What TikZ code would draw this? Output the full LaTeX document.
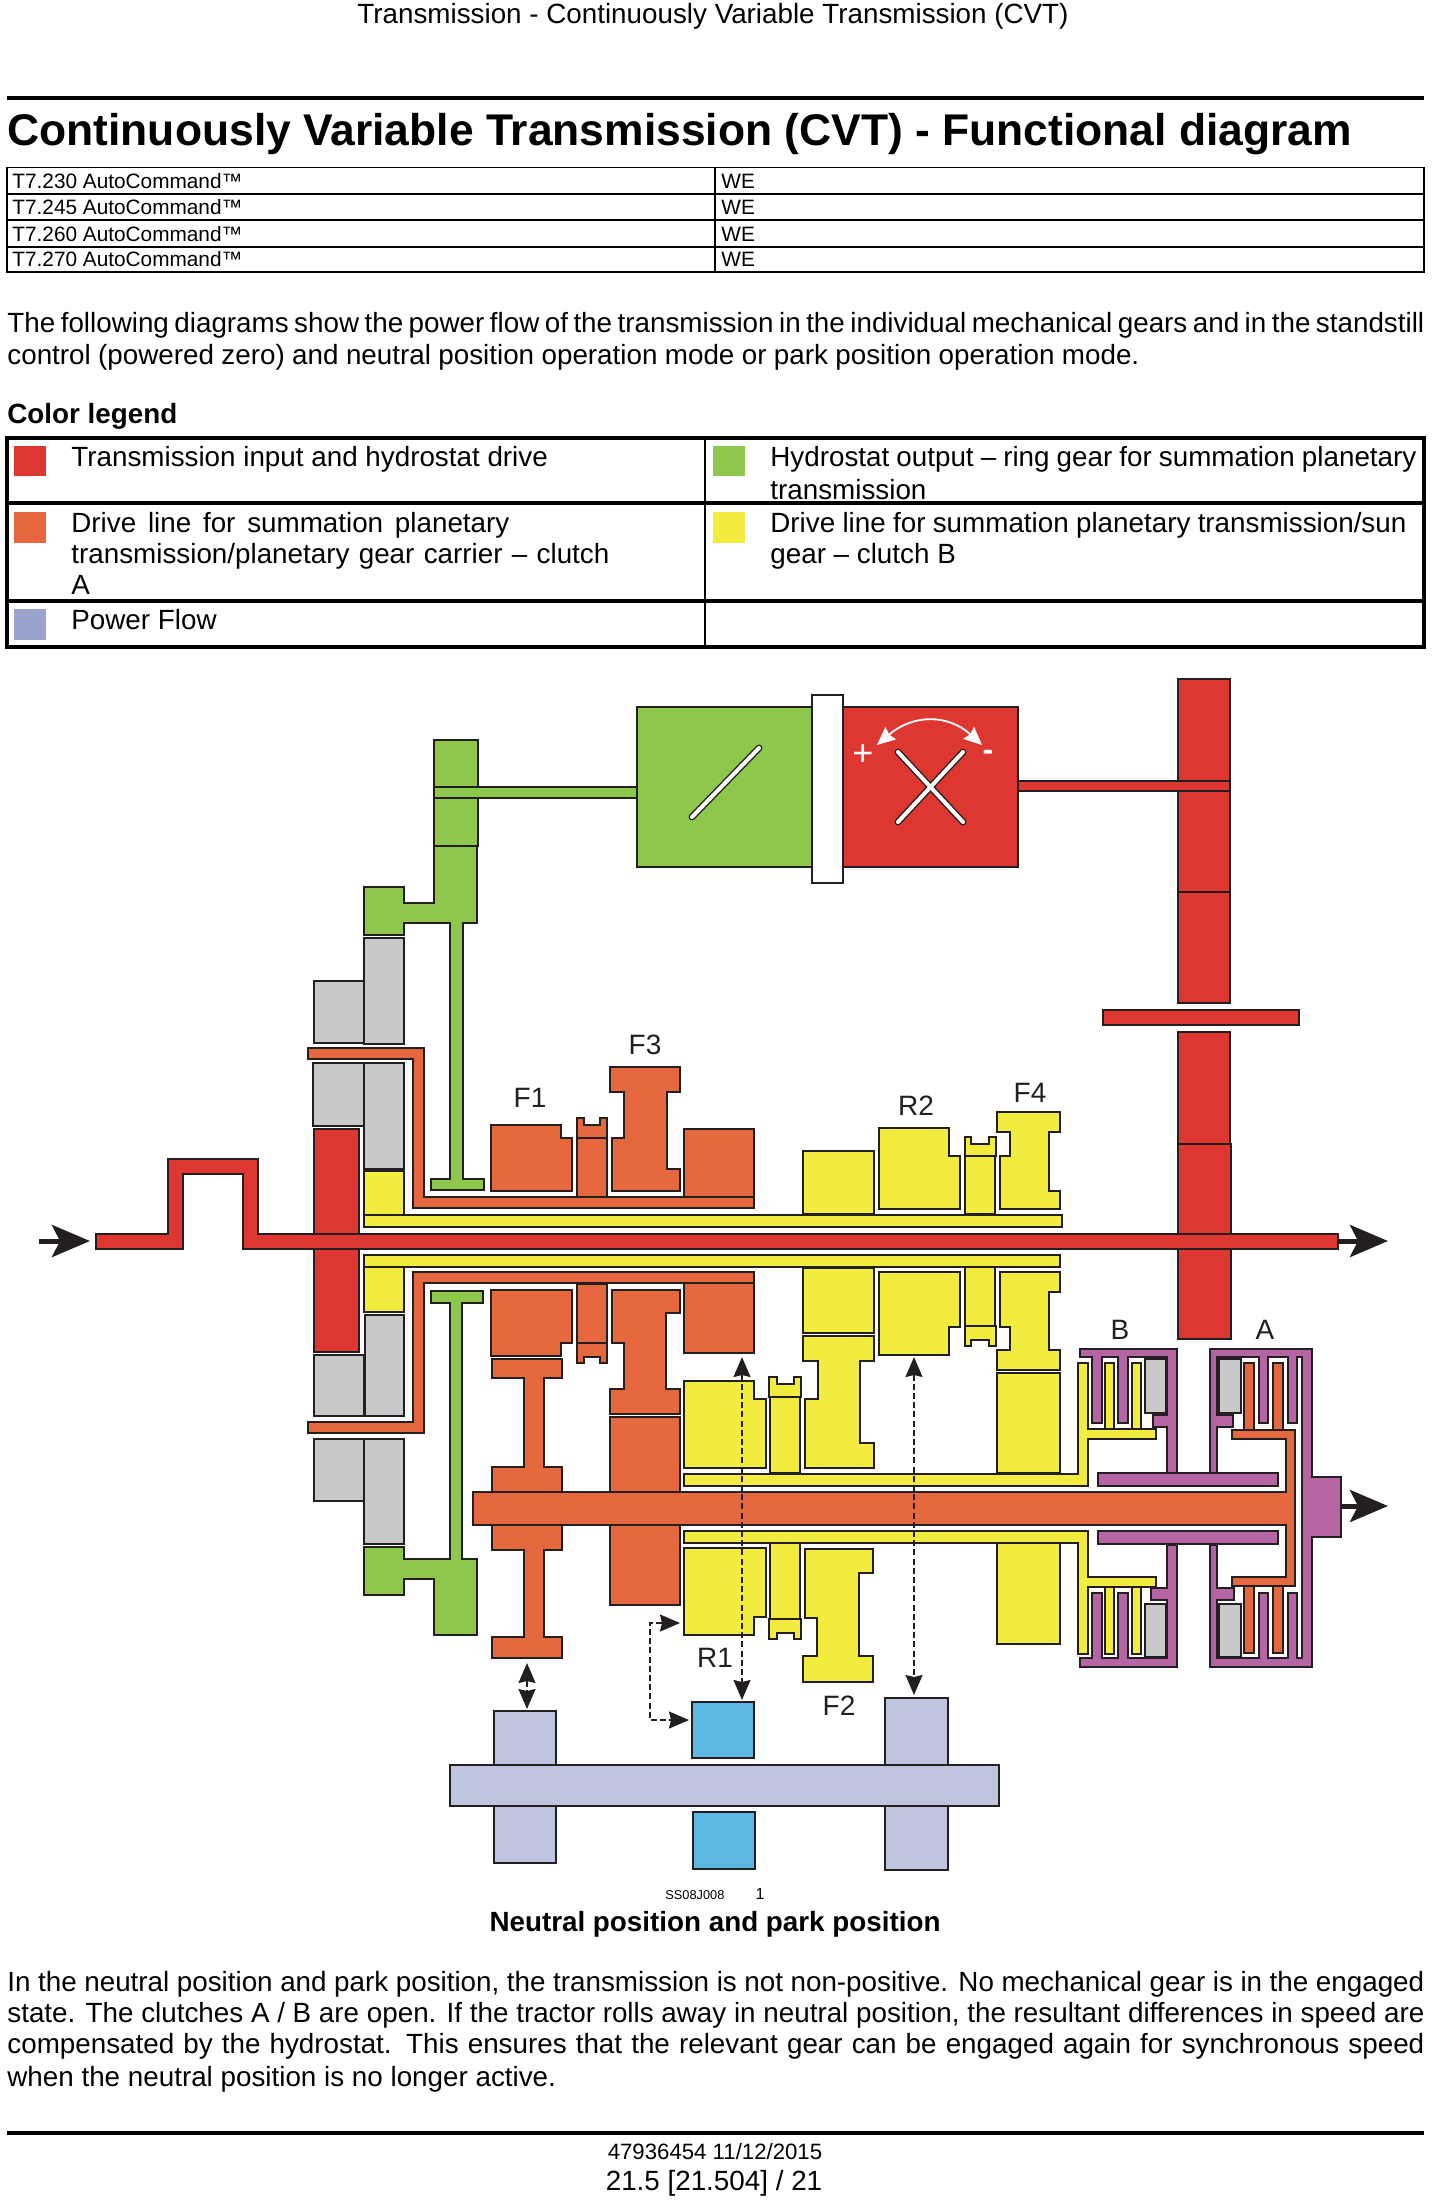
\documentclass[tikz,border=0pt]{standalone}
\usepackage{fontspec}
\setmainfont{Liberation Sans}
\usetikzlibrary{arrows.meta}

\definecolor{linedark}{HTML}{231F20}
\definecolor{cvtred}{HTML}{DE3731}
\definecolor{cvtgreen}{HTML}{8DC74B}
\definecolor{cvtorange}{HTML}{E5673E}
\definecolor{cvtyellow}{HTML}{F2EC3E}
\definecolor{cvtgrey}{HTML}{C9C9CC}
\definecolor{cvtpurple}{HTML}{B565A3}
\definecolor{cvtrail}{HTML}{C0C5DF}
\definecolor{cvtblue}{HTML}{5CB8E2}
\definecolor{cvtflow}{HTML}{99A3CC}

\newcommand{\fitline}[2]{\hbox to #1{\spaceskip=.278em plus 1em minus .2em #2}}

\tikzset{
	part/.style={draw=linedark, line width=0.8pt, line join=miter},
	redpart/.style={part, fill=cvtred},
	greenpart/.style={part, fill=cvtgreen},
	orangepart/.style={part, fill=cvtorange},
	yellowpart/.style={part, fill=cvtyellow},
	greypart/.style={part, fill=cvtgrey},
	purplepart/.style={part, fill=cvtpurple},
	railpart/.style={part, fill=cvtrail},
	bluepart/.style={part, fill=cvtblue},
	pistonpart/.style={draw=linedark, line width=1.4pt, fill=cvtgrey},
	bodytext/.style={anchor=base west, inner sep=0pt, font=\fontsize{13.9}{16}\selectfont},
	boldtext/.style={bodytext, font=\fontsize{13.9}{16}\selectfont\bfseries},
	gearlabel/.style={inner sep=0pt, text=linedark, font=\fontsize{14}{16}\selectfont},
	smalltext/.style={anchor=base west, inner sep=0pt, font=\fontsize{10.4}{12}\selectfont},
	footertext/.style={anchor=base, inner sep=0pt},
	flowarrow/.style={-{Stealth[length=19pt,width=16pt,inset=4pt]}, linedark, line width=2.5pt},
	shiftarrow/.style={{Stealth[length=10pt,width=8.5pt,inset=1pt]}-{Stealth[length=10pt,width=8.5pt,inset=1pt]}, linedark, line width=0.8pt, dash pattern=on 3pt off 1.6pt},
	swatch/.style={fill=#1, draw=none}
}

\begin{document}
\begin{tikzpicture}[x=0.5pt, y=-0.5pt]
	\useasboundingbox (0,0) rectangle (1432,2200);

	% page head
	\node[footertext, font=\fontsize{13.9}{16}\selectfont] (pagehead) at (713,24) {Transmission - Continuously Variable Transmission (CVT)};
	\draw[line width=2pt] (7,98) -- (1424,98);
	\node[bodytext, font=\fontsize{22.2}{26}\selectfont\bfseries] (pagetitle) at (7,145) {Continuously Variable Transmission (CVT) - Functional diagram};

	% model table
	\draw[line width=0.6pt] (7,167.5) rectangle (1424,272);
	\foreach \y in {194,220,247}
		\draw[line width=0.6pt] (7,\y) -- (1424,\y);
	\draw[line width=0.6pt] (715,167.5) -- (715,272);
	\foreach \y/\model in {188/230, 214/245, 241/260, 266/270}
	{
		\node[smalltext] (model\model) at (12,\y) {T7.\model{} AutoCommand™};
		\node[smalltext] (market\model) at (721,\y) {WE};
	}

	% intro
	\node[bodytext] (introone) at (7,332) {\fitline{708.5pt}{The following diagrams show the power flow of the transmission in the individual mechanical gears and in the standstill}};
	\node[bodytext] (introtwo) at (7,364) {\fitline{566pt}{control (powered zero) and neutral position operation mode or park position operation mode.}};

	% legend
	\node[boldtext] (legendhead) at (7,423) {Color legend};
	\draw[line width=2pt] (7,438) rectangle (1424,647);
	\draw[line width=2pt] (7,503) -- (1424,503);
	\draw[line width=2pt] (7,601) -- (1424,601);
	\draw[line width=1pt] (705,438) -- (705,647);
	\fill[swatch=cvtred] (14,446) rectangle (46,476);
	\fill[swatch=cvtgreen] (713,446) rectangle (745,476);
	\fill[swatch=cvtorange] (14,512) rectangle (46,543);
	\fill[swatch=cvtyellow] (713,512) rectangle (745,543);
	\fill[swatch=cvtflow] (14,609) rectangle (46,640);
	\node[bodytext] (legendred) at (71,466) {Transmission input and hydrostat drive};
	\node[bodytext] (legendgreen) at (770,466) {\fitline{323pt}{Hydrostat output – ring gear for summation planetary}};
	\node[bodytext] (legendgreenb) at (770,499) {transmission};
	\node[bodytext] (legendorange) at (71,532) {\fitline{219pt}{Drive line for summation planetary}};
	\node[bodytext] (legendorangeb) at (71,563) {\fitline{269pt}{transmission/planetary gear carrier – clutch}};
	\node[bodytext] (legendorangec) at (71,594) {A};
	\node[bodytext] (legendyellow) at (770,532) {\fitline{318pt}{Drive line for summation planetary transmission/sun}};
	\node[bodytext] (legendyellowb) at (770,563) {gear – clutch B};
	\node[bodytext] (legendflow) at (71,629) {Power Flow};

	% hydrostat
	\draw[greenpart] (637,707) rectangle (812,867);
	\draw[redpart] (843,707) rectangle (1018,867);
	\draw[part, fill=white] (812,695) rectangle (843,883);
	\foreach \col/\wd in {linedark/3.4pt, white/2pt}
	{
		\draw[\col, line width=\wd, line cap=round] (692,817) -- (759,748);
		\draw[\col, line width=\wd, line cap=round] (898,822) -- (963,752);
		\draw[\col, line width=\wd, line cap=round] (898,752) -- (963,822);
	}
	\draw[white, line width=0.9pt, {Stealth[length=9pt,width=8pt,inset=1pt]}-{Stealth[length=9pt,width=8pt,inset=1pt]}] (877,745) .. controls (913,714) and (948,714) .. (982,745);
	\node[gearlabel, text=white, font=\fontsize{18}{20}\selectfont] (plussign) at (863,755) {+};
	\node[gearlabel, text=white, font=\fontsize{16}{18}\selectfont\bfseries] (minussign) at (988,755) {-};

	% red input and drive
	\draw[redpart] (1178,679) rectangle (1230,892);
	\draw[redpart] (1178,892) rectangle (1230,1003);
	\draw[redpart] (1103,1010) rectangle (1299,1025);
	\draw[redpart] (1178,1032) rectangle (1230,1144);
	\draw[redpart] (1178,1144) rectangle (1231,1339);
	\draw[redpart] (1018,781) rectangle (1230,791);
	\draw[redpart] (314,1129) rectangle (359,1352);
	\draw[redpart] (96,1234) -- (168,1234) -- (168,1159) -- (258,1159) -- (258,1234) -- (1338,1234) -- (1338,1249) -- (243,1249) -- (243,1174) -- (183,1174) -- (183,1249) -- (96,1249) -- cycle;

	% green upper
	\draw[greenpart] (434,740) rectangle (478,846);
	\draw[greenpart] (434,787) rectangle (637,798);
	\draw[greenpart] (434,846) -- (477,846) -- (477,923) -- (463,923) -- (463,1179) -- (484,1179) -- (484,1190) -- (431,1190) -- (431,1179) -- (450,1179) -- (450,923) -- (404,923) -- (404,935) -- (364,935) -- (364,887) -- (404,887) -- (404,903) -- (434,903) -- cycle;

	% green lower
	\draw[greenpart] (431,1291) -- (483,1291) -- (483,1303) -- (462,1303) -- (462,1559) -- (477,1559) -- (477,1635) -- (434,1635) -- (434,1579) -- (404,1579) -- (404,1595) -- (364,1595) -- (364,1547) -- (404,1547) -- (404,1559) -- (450,1559) -- (450,1303) -- (431,1303) -- cycle;

	% grey bearings
	\draw[greypart] (314,981) rectangle (364,1043);
	\draw[greypart] (364,938) rectangle (404,1044);
	\draw[greypart] (313,1063) rectangle (364,1126);
	\draw[greypart] (364,1063) rectangle (404,1169);
	\draw[greypart] (314,1355) rectangle (364,1416);
	\draw[greypart] (365,1315) rectangle (404,1416);
	\draw[greypart] (314,1439) rectangle (364,1501);
	\draw[greypart] (364,1439) rectangle (404,1544);

	% orange carrier
	\draw[orangepart] (308,1048) -- (424,1048) -- (424,1197) -- (754,1197) -- (754,1208) -- (413,1208) -- (413,1059) -- (308,1059) -- cycle;
	\draw[orangepart] (413,1272) -- (754,1272) -- (754,1283) -- (424,1283) -- (424,1433) -- (308,1433) -- (308,1422) -- (413,1422) -- cycle;

	% orange gears above the shaft
	\draw[orangepart] (491,1125) -- (561,1125) -- (561,1138) -- (572,1138) -- (572,1191) -- (491,1191) -- cycle;
	\draw[orangepart] (577,1138) rectangle (607,1197);
	\draw[orangepart] (577,1118) -- (584,1118) -- (584,1125) -- (600,1125) -- (600,1118) -- (607,1118) -- (607,1138) -- (577,1138) -- cycle;
	\draw[orangepart] (610,1067) -- (680,1067) -- (680,1092) -- (667,1092) -- (667,1169) -- (680,1169) -- (680,1191) -- (612,1191) -- (612,1138) -- (624,1138) -- (624,1092) -- (610,1092) -- cycle;
	\draw[orangepart] (684,1129) rectangle (754,1197);

	% orange gears below the shaft
	\draw[orangepart] (491,1290) -- (572,1290) -- (572,1343) -- (561,1343) -- (561,1356) -- (491,1356) -- cycle;
	\draw[orangepart] (577,1284) rectangle (607,1343);
	\draw[orangepart] (577,1343) -- (607,1343) -- (607,1363) -- (600,1363) -- (600,1357) -- (584,1357) -- (584,1363) -- (577,1363) -- cycle;
	\draw[orangepart] (612,1290) -- (680,1290) -- (680,1313) -- (666,1313) -- (666,1389) -- (680,1389) -- (680,1414) -- (610,1414) -- (610,1389) -- (624,1389) -- (624,1343) -- (612,1343) -- cycle;
	\draw[orangepart] (684,1283) rectangle (754,1353);
	\draw[orangepart] (610,1417) rectangle (680,1605);
	\draw[orangepart] (492,1359) -- (562,1359) -- (562,1378) -- (544,1378) -- (544,1467) -- (562,1467) -- (562,1550) -- (544,1550) -- (544,1637) -- (562,1637) -- (562,1658) -- (492,1658) -- (492,1637) -- (524,1637) -- (524,1550) -- (492,1550) -- (492,1467) -- (524,1467) -- (524,1378) -- (492,1378) -- cycle;

	% yellow gears above the shaft
	\draw[yellowpart] (364,1171) rectangle (404,1215);
	\draw[yellowpart] (803,1151) rectangle (874,1214);
	\draw[yellowpart] (879,1128) -- (949,1128) -- (949,1156) -- (960,1156) -- (960,1209) -- (879,1209) -- cycle;
	\draw[yellowpart] (965,1156) rectangle (995,1214);
	\draw[yellowpart] (965,1137) -- (971,1137) -- (971,1144) -- (989,1144) -- (989,1137) -- (996,1137) -- (996,1156) -- (965,1156) -- cycle;
	\draw[yellowpart] (997,1112) -- (1060,1112) -- (1060,1132) -- (1049,1132) -- (1049,1191) -- (1060,1191) -- (1060,1209) -- (1000,1209) -- (1000,1156) -- (1010,1156) -- (1010,1132) -- (997,1132) -- cycle;
	\draw[yellowpart] (364,1215) rectangle (1062,1227);

	% yellow gears below the shaft
	\draw[yellowpart] (364,1255) rectangle (1060,1267);
	\draw[yellowpart] (364,1267) rectangle (404,1312);
	\draw[yellowpart] (803,1268) rectangle (874,1333);
	\draw[yellowpart] (879,1272) -- (960,1272) -- (960,1327) -- (949,1327) -- (949,1355) -- (879,1355) -- cycle;
	\draw[yellowpart] (965,1267) rectangle (995,1326);
	\draw[yellowpart] (965,1326) -- (996,1326) -- (996,1346) -- (989,1346) -- (989,1340) -- (971,1340) -- (971,1346) -- (965,1346) -- cycle;
	\draw[yellowpart] (1000,1272) -- (1060,1272) -- (1060,1292) -- (1049,1292) -- (1049,1350) -- (1060,1350) -- (1060,1370) -- (997,1370) -- (997,1350) -- (1010,1350) -- (1010,1327) -- (1000,1327) -- cycle;
	\draw[yellowpart] (997,1373) rectangle (1060,1473);
	\draw[yellowpart] (997,1543) rectangle (1060,1644);
	\draw[yellowpart] (684,1381) -- (754,1381) -- (754,1399) -- (766,1399) -- (766,1468) -- (684,1468) -- cycle;
	\draw[yellowpart] (684,1548) -- (766,1548) -- (766,1617) -- (754,1617) -- (754,1635) -- (684,1635) -- cycle;
	\draw[yellowpart] (770,1397) rectangle (800,1473);
	\draw[yellowpart] (769,1377) -- (777,1377) -- (777,1384) -- (794,1384) -- (794,1377) -- (801,1377) -- (801,1397) -- (769,1397) -- cycle;
	\draw[yellowpart] (770,1543) rectangle (800,1619);
	\draw[yellowpart] (769,1619) -- (801,1619) -- (801,1639) -- (794,1639) -- (794,1633) -- (777,1633) -- (777,1639) -- (769,1639) -- cycle;
	\draw[yellowpart] (803,1336) -- (874,1336) -- (874,1361) -- (860,1361) -- (860,1443) -- (874,1443) -- (874,1468) -- (805,1468) -- (805,1399) -- (818,1399) -- (818,1361) -- (803,1361) -- cycle;
	\draw[yellowpart] (805,1549) -- (873,1549) -- (873,1573) -- (859,1573) -- (859,1656) -- (873,1656) -- (873,1682) -- (803,1682) -- (803,1656) -- (817,1656) -- (817,1618) -- (805,1618) -- cycle;

	% clutch B
	\draw[purplepart] (1080,1349) -- (1177,1349) -- (1177,1473) -- (1167,1473) -- (1167,1357) -- (1080,1357) -- cycle;
	\draw[purplepart] (1167,1545) -- (1177,1545) -- (1177,1667) -- (1080,1667) -- (1080,1658) -- (1167,1658) -- cycle;
	\foreach \x in {1092,1118}
	{
		\draw[purplepart] (\x,1356) -- (\x,1423) -- (\x+10,1423) -- (\x+10,1356);
		\draw[purplepart] (\x,1659) -- (\x,1593) -- (\x+10,1593) -- (\x+10,1659);
	}
	\foreach \x in {1105,1132}
	{
		\draw[yellowpart] (\x,1363) rectangle (\x+9,1429);
		\draw[yellowpart] (\x,1587) rectangle (\x+9,1654);
	}
	\draw[purplepart] (1168,1415) -- (1153,1415) -- (1153,1427) -- (1168,1427);
	\draw[purplepart] (1168,1588) -- (1151,1588) -- (1151,1600) -- (1168,1600);
	\draw[pistonpart] (1145,1359) rectangle (1166,1413);
	\draw[pistonpart] (1145,1604) rectangle (1166,1657);

	% clutch A
	\draw[purplepart] (1210,1473) -- (1210,1349) -- (1312,1349) -- (1312,1477) -- (1341,1477) -- (1341,1537) -- (1312,1537) -- (1312,1667) -- (1210,1667) -- (1210,1545) -- (1217,1545) -- (1217,1658) -- (1302,1658) -- (1302,1357) -- (1217,1357) -- (1217,1473) -- cycle;
	\foreach \x in {1259,1288}
	{
		\draw[purplepart] (\x,1356) -- (\x,1423) -- (\x+9,1423) -- (\x+9,1356);
		\draw[purplepart] (\x,1659) -- (\x,1593) -- (\x+9,1593) -- (\x+9,1659);
	}
	\foreach \x in {1244,1273}
	{
		\draw[orangepart] (\x,1363) rectangle (\x+10,1430);
		\draw[orangepart] (\x,1586) rectangle (\x+10,1653);
	}
	\draw[purplepart] (1216,1415) -- (1233,1415) -- (1233,1427) -- (1216,1427);
	\draw[purplepart] (1216,1588) -- (1234,1588) -- (1234,1600) -- (1216,1600);
	\draw[pistonpart] (1219,1359) rectangle (1241,1413);
	\draw[pistonpart] (1219,1604) rectangle (1241,1657);

	% sleeves and main shaft
	\draw[purplepart] (1098,1473) rectangle (1278,1486);
	\draw[purplepart] (1098,1531) rectangle (1278,1544);
	\draw[yellowpart] (684,1474) -- (1078,1474) -- (1078,1363) -- (1088,1363) -- (1088,1429) -- (1156,1429) -- (1156,1439) -- (1088,1439) -- (1088,1486) -- (684,1486) -- cycle;
	\draw[yellowpart] (684,1531) -- (1088,1531) -- (1088,1577) -- (1156,1577) -- (1156,1587) -- (1088,1587) -- (1088,1654) -- (1078,1654) -- (1078,1543) -- (684,1543) -- cycle;
	\draw[orangepart] (473,1492) -- (1286,1492) -- (1286,1439) -- (1232,1439) -- (1232,1430) -- (1295,1430) -- (1295,1586) -- (1232,1586) -- (1232,1577) -- (1286,1577) -- (1286,1525) -- (473,1525) -- cycle;

	% shift rail
	\draw[railpart] (494,1711) rectangle (556,1863);
	\draw[railpart] (885,1698) rectangle (948,1870);
	\draw[railpart] (450,1765) rectangle (999,1806);
	\draw[bluepart] (692,1702) rectangle (754,1758);
	\draw[bluepart] (693,1812) rectangle (755,1869);

	% flow arrows
	\coordinate (infrom) at (39,1241);
	\coordinate (into) at (90,1241);
	\coordinate (outred) at (1338,1241);
	\coordinate (outredtip) at (1388,1241);
	\coordinate (outpurple) at (1341,1506);
	\coordinate (outpurpletip) at (1388,1506);
	\draw[flowarrow] (infrom) -- (into);
	\draw[flowarrow] (outred) -- (outredtip);
	\draw[flowarrow] (outpurple) -- (outpurpletip);

	% shift arrows
	\coordinate (fonetop) at (527,1663);
	\coordinate (fonerail) at (527,1709);
	\coordinate (ronetop) at (742,1357);
	\coordinate (ronerail) at (742,1700);
	\coordinate (rtwotop) at (914,1357);
	\coordinate (rtworail) at (914,1695);
	\coordinate (rstop) at (680,1623);
	\coordinate (rsblock) at (689,1720);
	\draw[shiftarrow] (fonetop) -- (fonerail);
	\draw[shiftarrow] (ronetop) -- (ronerail);
	\draw[shiftarrow] (rtwotop) -- (rtworail);
	\draw[shiftarrow] (rstop) -- (650,1623) -- (650,1720) -- (rsblock);

	% gear labels
	\node[gearlabel] (labfone) at (530,1098) {F1};
	\node[gearlabel] (labfthree) at (645,1045) {F3};
	\node[gearlabel] (labrtwo) at (916,1106) {R2};
	\node[gearlabel] (labffour) at (1030,1093) {F4};
	\node[gearlabel] (labb) at (1120,1330) {B};
	\node[gearlabel] (laba) at (1265,1330) {A};
	\node[gearlabel] (labrone) at (715,1658) {R1};
	\node[gearlabel] (labftwo) at (839,1706) {F2};

	% caption
	\node[anchor=base west, inner sep=0pt, font=\fontsize{6.4}{8}\selectfont] (figcode) at (665,1899) {SS08J008};
	\node[anchor=base, inner sep=0pt, font=\fontsize{8}{10}\selectfont] (fignum) at (760,1899) {1};
	\node[footertext, font=\fontsize{13.9}{16}\selectfont\bfseries] (figcaption) at (715,1931.5) {Neutral position and park position};

	% closing text
	\node[bodytext] (closeone) at (7,1991) {\fitline{708.5pt}{In the neutral position and park position, the transmission is not non-positive.  No mechanical gear is in the engaged}};
	\node[bodytext] (closetwo) at (7,2022) {\fitline{708.5pt}{state.  The clutches A / B are open.  If the tractor rolls away in neutral position, the resultant differences in speed are}};
	\node[bodytext] (closethree) at (7,2053.5) {\fitline{708.5pt}{compensated by the hydrostat.  This ensures that the relevant gear can be engaged again for synchronous speed}};
	\node[bodytext] (closefour) at (7,2086) {when the neutral position is no longer active.};

	% page foot
	\draw[line width=2pt] (7,2133) -- (1424,2133);
	\node[footertext, font=\fontsize{11.1}{13}\selectfont] (pagedate) at (715,2159) {47936454 11/12/2015};
	\node[footertext, font=\fontsize{13.9}{16}\selectfont] (pagenum) at (714,2190) {21.5 [21.504] / 21};
\end{tikzpicture}
\end{document}
